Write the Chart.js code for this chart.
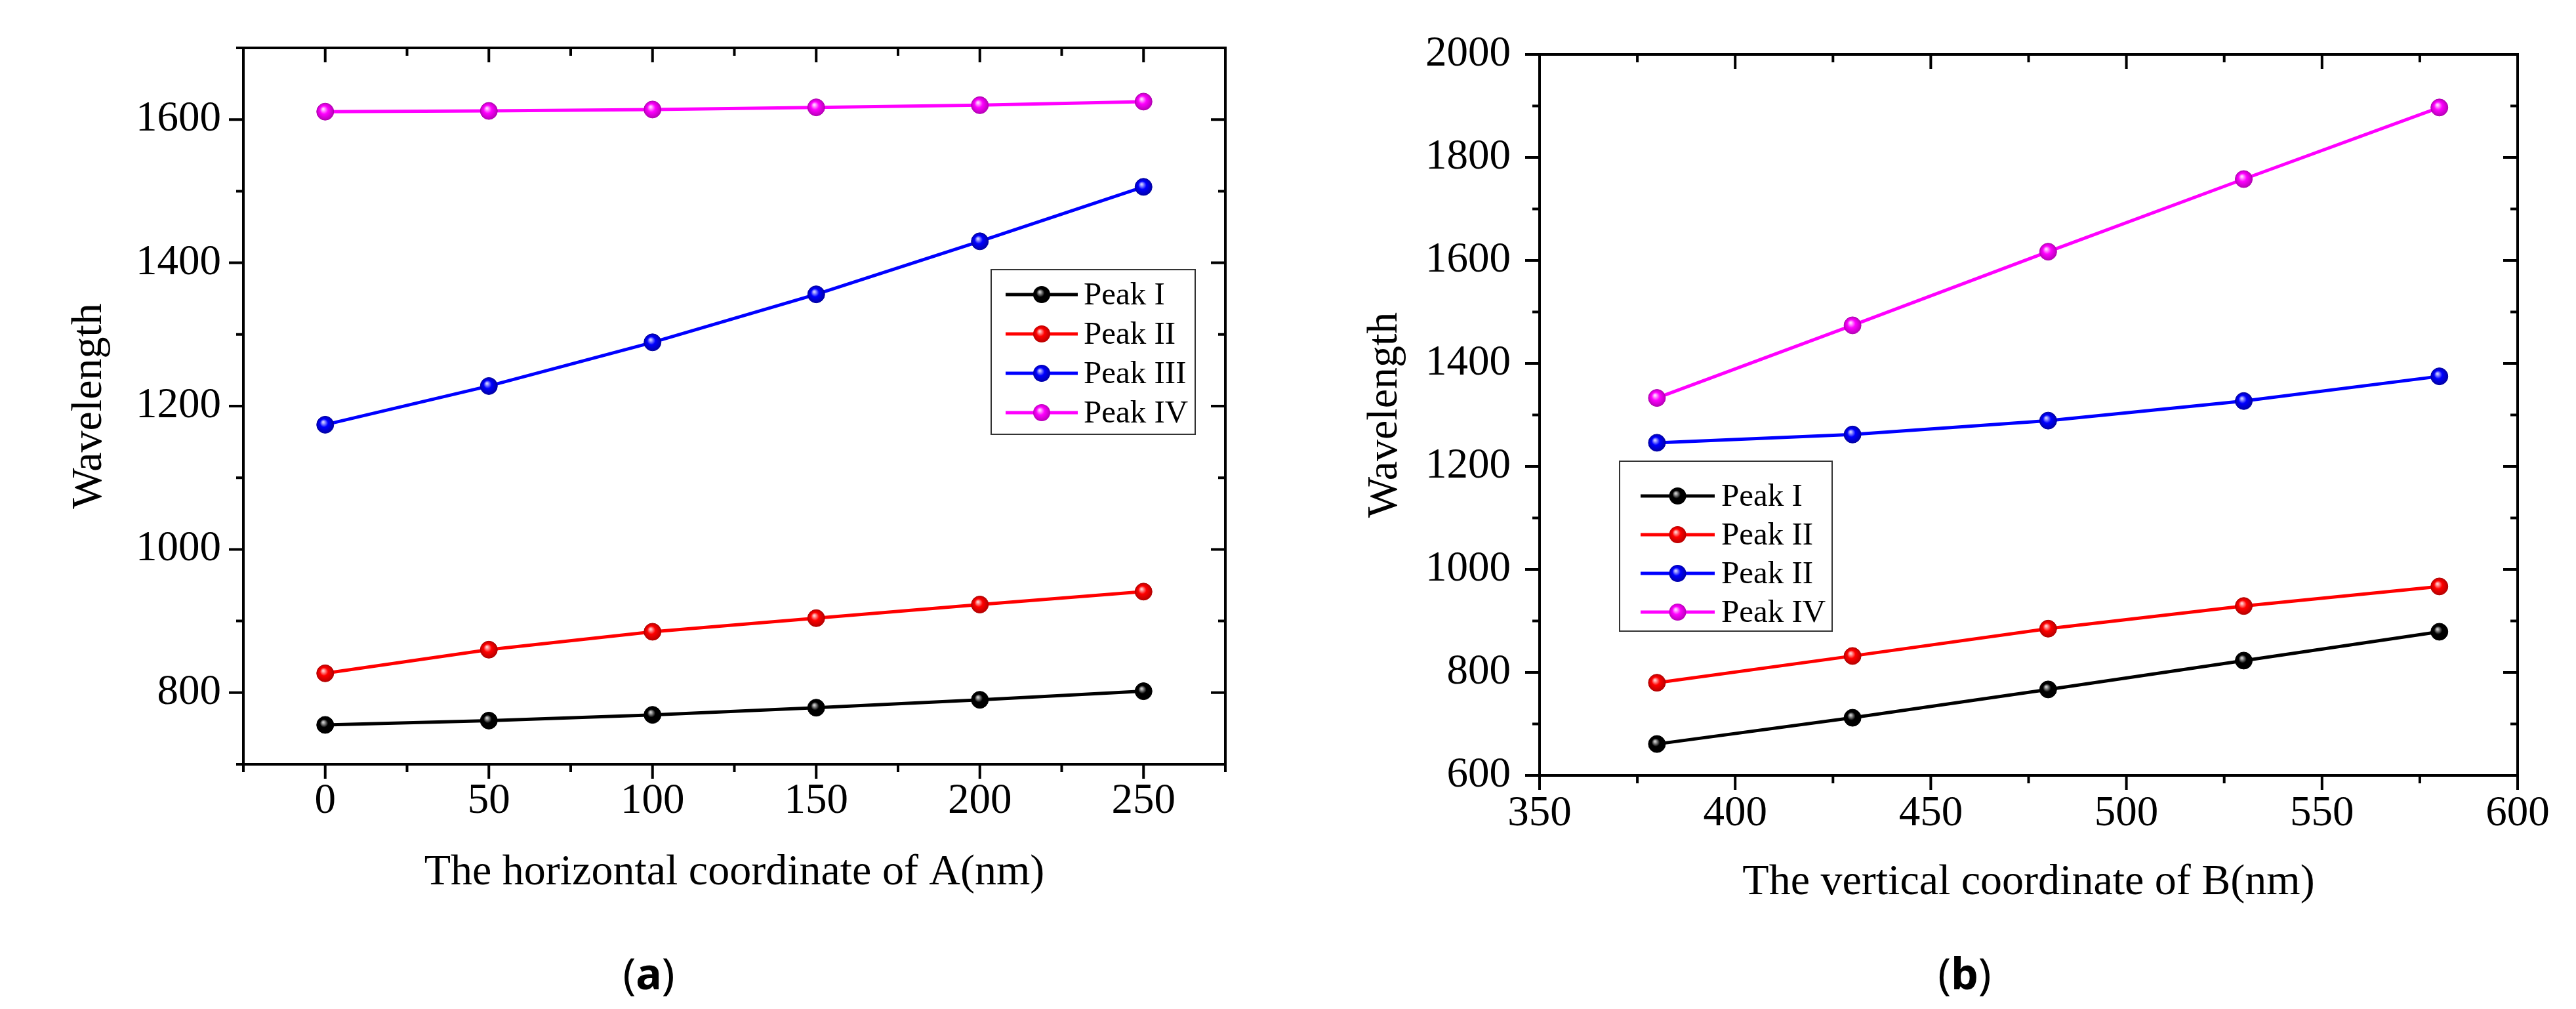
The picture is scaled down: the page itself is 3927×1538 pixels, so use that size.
<!DOCTYPE html>
<html>
<head>
<meta charset="utf-8">
<script src="https://cdn.jsdelivr.net/npm/chart.js@4.4.0/dist/chart.umd.min.js"></script>
<style>
  html, body { margin: 0; padding: 0; background: #fff; }
  body { width: 3927px; height: 1538px; position: relative; overflow: hidden; }
  canvas { position: absolute; top: 0; }
  #chartA { left: 0; }
  #chartB { left: 1960px; }
  .panel {
    position: absolute; transform: translate(-50%, -50%);
    font-family: "Noto Sans", "Liberation Sans", sans-serif; font-size: 66px; color: #000;
  }
  .panel b { font-weight: 700; }
</style>
</head>
<body>
<canvas id="chartA" width="1960" height="1538" style="width:1960px;height:1538px"></canvas>
<canvas id="chartB" width="1967" height="1538" style="width:1967px;height:1538px"></canvas>
<div class="panel" style="left:989px;top:1482px">(<b>a</b>)</div>
<div class="panel" style="left:2995px;top:1482px">(<b>b</b>)</div>
<script>
// panel (a): horizontal coordinate of A
const xA = [0, 50, 100, 150, 200, 250];
const peakIA = [755, 761, 769, 779, 790, 802];
const peakIIA = [827, 860, 885, 904, 923, 941];
const peakIIIA = [1174, 1228, 1289, 1356, 1430, 1506];
const peakIVA = [1611, 1612, 1614, 1617, 1620, 1625];
const labelsA = ['Peak I', 'Peak II', 'Peak III', 'Peak IV'];

// panel (b): vertical coordinate of B
const xB = [380, 430, 480, 530, 580];
const peakIB = [661, 712, 767, 823, 879];
const peakIIB = [780, 832, 885, 929, 967];
const peakIIIB = [1246, 1262, 1289, 1327, 1375];
const peakIVB = [1333, 1474, 1617, 1758, 1897];
const labelsB = ['Peak I', 'Peak II', 'Peak II', 'Peak IV'];

const colours = ['#000000', '#ff0000', '#0000ff', '#ff00ff'];
const lights = ['#c8c8c8', '#ffc8c8', '#c8c8ff', '#ffd0ff'];
const darks = ['#000000', '#b00000', '#0000a0', '#b000b0'];

const serif = '"Liberation Serif", "Times New Roman", serif';
Chart.defaults.font.family = serif;
Chart.defaults.color = '#000';

function sphereFill(c, x, y, i) {
    const g = c.createRadialGradient(x - 3, y - 4, 1, x, y, 14);
    g.addColorStop(0, lights[i]);
    g.addColorStop(0.4, colours[i]);
    g.addColorStop(1, darks[i]);
    return g;
}

function pointFill(i) {
    return function (ctx) {
        if (!ctx.parsed) return colours[i];
        const chart = ctx.chart;
        const x = chart.scales.x.getPixelForValue(ctx.parsed.x);
        const y = chart.scales.y.getPixelForValue(ctx.parsed.y);
        // scales are not laid out yet on the first pass
        if (!isFinite(x) || !isFinite(y)) return colours[i];
        return sphereFill(chart.ctx, x, y, i);
    };
}

function toPoints(xs, ys) {
    return xs.map((x, i) => ({x: x, y: ys[i]}));
}

// frame with outward ticks on left/bottom and inward mirror ticks on top/right
const framePlugin = {
    id: 'frame',
    afterDraw(chart) {
        const {ctx, chartArea: a, scales} = chart;
        ctx.save();
        ctx.strokeStyle = '#000';
        ctx.lineWidth = 4;
        ctx.strokeRect(a.left, a.top, a.right - a.left, a.bottom - a.top);
        scales.x.ticks.forEach(t => {
            const px = scales.x.getPixelForValue(t.value);
            const len = t.label !== '' ? 22 : 12;
            ctx.beginPath();
            ctx.moveTo(px, a.bottom); ctx.lineTo(px, a.bottom + len);
            ctx.moveTo(px, a.top); ctx.lineTo(px, a.top + len);
            ctx.stroke();
        });
        scales.y.ticks.forEach(t => {
            const py = scales.y.getPixelForValue(t.value);
            const len = t.label !== '' ? 22 : 11;
            ctx.beginPath();
            ctx.moveTo(a.left, py); ctx.lineTo(a.left - len, py);
            ctx.moveTo(a.right, py); ctx.lineTo(a.right - len, py);
            ctx.stroke();
        });
        ctx.restore();
    }
};

// legend box placed inside the plot
const boxLegend = {
    id: 'boxLegend',
    afterDraw(chart, args, opts) {
        const ctx = chart.ctx;
        ctx.save();
        ctx.strokeStyle = '#333';
        ctx.lineWidth = 2;
        ctx.strokeRect(opts.left, opts.top, opts.right - opts.left, opts.bottom - opts.top);
        ctx.font = '49px ' + serif;
        ctx.textBaseline = 'middle';
        ctx.fillStyle = '#000';
        chart.data.datasets.forEach((ds, i) => {
            const y = opts.firstRow + i * opts.rowGap;
            ctx.strokeStyle = colours[i];
            ctx.lineWidth = 5;
            ctx.beginPath();
            ctx.moveTo(opts.lineStart, y); ctx.lineTo(opts.lineEnd, y);
            ctx.stroke();
            const mx = (opts.lineStart + opts.lineEnd) / 2;
            ctx.beginPath();
            ctx.arc(mx, y, 13, 0, Math.PI * 2);
            ctx.fillStyle = sphereFill(ctx, mx, y, i);
            ctx.fill();
            ctx.fillStyle = '#000';
            ctx.fillText(ds.label, opts.textX, y + 2);
        });
        ctx.restore();
    }
};

function renderChart(target, xs, series, labels, axes, layout, legendBox) {
    const datasets = series.map((ys, i) => ({
        label: labels[i],
        data: toPoints(xs, ys),
        borderColor: colours[i],
        borderWidth: 5,
        pointRadius: 13,
        pointHoverRadius: 13,
        pointBackgroundColor: pointFill(i),
        pointBorderColor: darks[i],
        pointBorderWidth: 1,
        tension: 0
    }));

    new Chart(target, {
        type: 'line',
        data: {datasets: datasets},
        options: {
            responsive: false,
            animation: false,
            devicePixelRatio: 1,
            layout: {padding: layout.padding},
            plugins: {
                legend: {display: false},
                tooltip: {enabled: false},
                boxLegend: legendBox
            },
            scales: {
                x: {
                    type: 'linear',
                    min: axes.xMin, max: axes.xMax,
                    grid: {display: false, drawTicks: false},
                    border: {display: false},
                    afterFit: s => { s.height = layout.xHeight; },
                    ticks: {
                        stepSize: axes.xStep / 2,
                        autoSkip: false,
                        maxRotation: 0,
                        padding: layout.xTickPad,
                        font: {size: 65},
                        callback: v => (v % axes.xStep === 0 ? String(v) : '')
                    },
                    title: {display: true, text: axes.xTitle, font: {size: 66}, padding: 0}
                },
                y: {
                    min: axes.yMin, max: axes.yMax,
                    grid: {display: false, drawTicks: false},
                    border: {display: false},
                    afterFit: s => { s.width = layout.yWidth; },
                    ticks: {
                        stepSize: axes.yStep / 2,
                        autoSkip: false,
                        padding: layout.yTickPad,
                        font: {size: 65},
                        callback: v => (v % axes.yStep === 0 ? String(v) : '')
                    },
                    title: {display: true, text: 'Wavelength', font: {size: 66}, padding: 0}
                }
            }
        },
        plugins: [framePlugin, boxLegend]
    });
}

renderChart(
    document.getElementById('chartA').getContext('2d'),
    xA, [peakIA, peakIIA, peakIIIA, peakIVA], labelsA,
    {xMin: -25, xMax: 275, xStep: 50, yMin: 700, yMax: 1700, yStep: 200,
     xTitle: 'The horizontal coordinate of A(nm)'},
    {padding: {left: 97, right: 92, top: 63, bottom: 168}, xHeight: 205, yWidth: 274, xTickPad: 18, yTickPad: 34},
    {left: 1511, top: 411, right: 1822, bottom: 662, firstRow: 449, rowGap: 60,
     lineStart: 1533, lineEnd: 1643, textX: 1652}
);

renderChart(
    document.getElementById('chartB').getContext('2d'),
    xB, [peakIB, peakIIB, peakIIIB, peakIVB], labelsB,
    {xMin: 350, xMax: 600, xStep: 50, yMin: 600, yMax: 2000, yStep: 200,
     xTitle: 'The vertical coordinate of B(nm)'},
    {padding: {left: 112, right: 89, top: 79, bottom: 153}, xHeight: 203, yWidth: 275, xTickPad: 20, yTickPad: 44},
    {left: 509, top: 703, right: 833, bottom: 962, firstRow: 756, rowGap: 59,
     lineStart: 541, lineEnd: 654, textX: 664}
);
</script>
</body>
</html>
